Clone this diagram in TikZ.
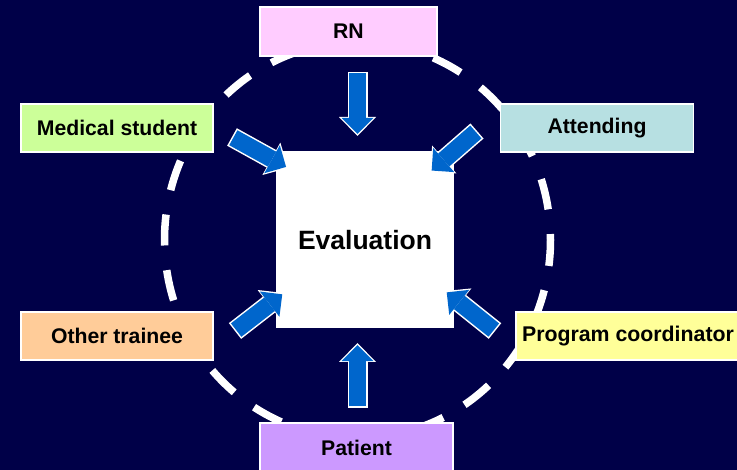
\documentclass[tikz,border=0pt]{standalone}
\usepackage{fontspec}
\setmainfont{Liberation Sans}
\usetikzlibrary{arrows.meta}
\definecolor{navy}{RGB}{0,0,72}
\definecolor{arrowblue}{RGB}{0,102,204}
\definecolor{rnpink}{RGB}{255,204,255}
\definecolor{msgreen}{RGB}{204,255,153}
\definecolor{attblue}{RGB}{183,224,226}
\definecolor{otorange}{RGB}{255,204,153}
\definecolor{pcyellow}{RGB}{255,255,153}
\definecolor{ptpurple}{RGB}{204,153,255}
\tikzset{>=latex}

\begin{document}
\begin{tikzpicture}[x=1pt,y=-1pt]
                % in = blue body of a block arrow, out = its white rim
                \tikzstyle{box}=[draw=white, line width=1.5pt, minimum height=48pt, inner sep=0pt, text=black, font=\fontsize{21.2}{24}\selectfont\bfseries]
                \tikzstyle{arrowout}=[white, line width=20pt, -{Triangle[width=37pt,length=19pt,line width=0pt]}]
                \tikzstyle{arrowin}=[arrowblue, line width=17pt, shorten <=1.5pt, shorten >=2.2pt, -{Triangle[width=32pt,length=16pt,line width=0pt]}]
                \fill[navy] (0,0) rectangle (737,470);
                \useasboundingbox (0,0) rectangle (737,470);

                % dashed ring, behind the boxes
                \draw[white, line width=7.5pt, dash pattern=on 31pt off 24.8pt, dash phase=5pt]
                        (357.5,240) ellipse [x radius=193, y radius=198];

                \node[fill=white, minimum width=178pt, minimum height=177pt, font=\fontsize{26.5}{30}\selectfont\bfseries] (Eval) at (365,240) {Evaluation};
                \node[box, fill=rnpink, minimum width=177pt, minimum height=49pt] (RN) at (348.5,31.5) {RN};
                \node[box, fill=msgreen, minimum width=192pt] (MS) at (117,128) {Medical student};
                \node[box, fill=attblue, minimum width=193pt] (AT) at (597,128) {Attending};
                \node[box, fill=otorange, minimum width=192pt] (OT) at (117,336) {Other trainee};
                \node[box, fill=pcyellow, minimum width=224pt, font=\fontsize{21.3}{24}\selectfont\bfseries] (PC) at (628,336) {Program coordinator};
                \node[box, fill=ptpurple, minimum width=193pt, minimum height=50pt] (PT) at (356.5,448) {Patient};

                % tails and tips of the block arrows
                \coordinate (RNtail) at (357.5,72);
                \coordinate (RNtip) at (357.5,136);
                \coordinate (MStail) at (232,137);
                \coordinate (MStip) at (288,168);
                \coordinate (ATtail) at (477,131);
                \coordinate (ATtip) at (430,172);
                \coordinate (OTtail) at (235,331);
                \coordinate (OTtip) at (284,293);
                \coordinate (PCtail) at (495,331);
                \coordinate (PCtip) at (445,291);
                \coordinate (PTtail) at (357.5,408);
                \coordinate (PTtip) at (357.5,343);

                \foreach \s in {RN, MS, AT, OT, PC, PT} {
                        \draw[arrowout] (\s tail) -- (\s tip);
                        \draw[arrowin] (\s tail) -- (\s tip);
                }
\end{tikzpicture}
\end{document}
